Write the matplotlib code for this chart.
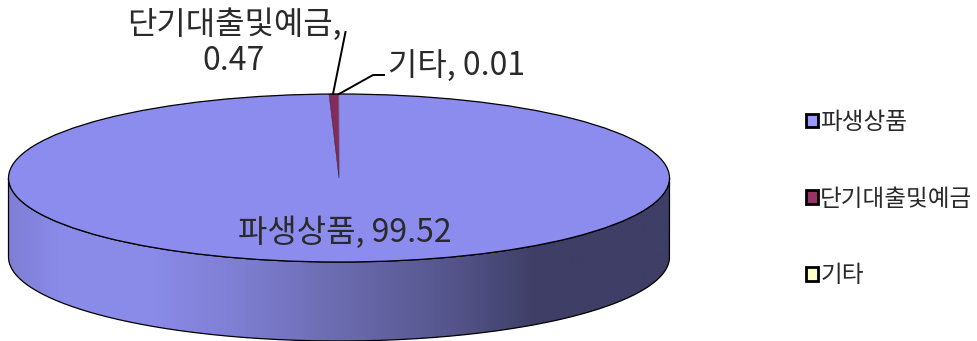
import numpy as np
import matplotlib
matplotlib.use("Agg")
import matplotlib.pyplot as plt
from matplotlib.colors import LinearSegmentedColormap
from matplotlib.patches import Patch, PathPatch, Ellipse
from matplotlib.path import Path

plt.rcParams['font.family'] = ['Noto Sans CJK KR', 'DejaVu Sans']

categories = ['파생상품', '단기대출및예금', '기타']
values = [99.52, 0.47, 0.01]
top_colors = ['#8C8CEE', '#822B5C', '#DADAB0']
legend_colors = ['#9999FF', '#993366', '#FFFFCC']

W, H = 978, 341
fig = plt.figure(figsize=(W / 100, H / 100), dpi=100)
cx, cy, rx, ry, depth = 339, 178, 330.5, 84, 79
text_color = '#2A2A2A'

# overlay in pixel coordinates
ov = fig.add_axes([0, 0, 1, 1], zorder=1)
ov.set_xlim(0, W); ov.set_ylim(H, 0); ov.axis('off')

# side wall with horizontal shading
t = np.linspace(0, np.pi, 300)
xf, yf = cx - rx * np.cos(t), cy + ry * np.sin(t)
verts = np.r_[np.c_[xf, yf], np.c_[xf[::-1], yf[::-1] + depth], [[xf[0], yf[0]]]]
wall = PathPatch(Path(verts), fc='none', ec='black', lw=0.9, zorder=2)
ov.add_patch(wall)
stops = [(0.0, '#7F7FD6'), (0.08, '#8A8AEA'), (0.22, '#8A8AE8'), (0.34, '#7F7FD4'),
         (0.50, '#6B6BB0'), (0.67, '#55558C'), (0.80, '#3E3E66'), (1.0, '#3E3E66')]
cmap = LinearSegmentedColormap.from_list('wall', stops)
im = ov.imshow(np.linspace(0, 1, 512)[None, :], cmap=cmap, aspect='auto',
               extent=(cx - rx, cx + rx, H, 0), zorder=1)
im.set_clip_path(wall)
ov.set_xlim(0, W); ov.set_ylim(H, 0)

# top face: real pie in an axes stretched to the ellipse
pie_ax = fig.add_axes([(cx - rx) / W, 1 - (cy + ry) / H, 2 * rx / W, 2 * ry / H], zorder=2)
wedges, _ = pie_ax.pie(values, colors=top_colors, startangle=90, counterclock=False,
                       radius=1, wedgeprops=dict(lw=0))
pie_ax.set_aspect('auto')
pie_ax.set_xlim(-1, 1); pie_ax.set_ylim(-1, 1)
wedges[1].set_edgecolor('#33182A'); wedges[1].set_linewidth(0.4)
pie_ax.add_patch(Ellipse((0, 0), 2, 2, fc='none', ec='black', lw=0.9, clip_on=False))

# labels and leader lines above everything
lab = fig.add_axes([0, 0, 1, 1], zorder=3)
lab.set_xlim(0, W); lab.set_ylim(H, 0); lab.axis('off')
fs = 23
lab.text(234, 25, f'{categories[1]},', fontsize=fs, color=text_color, ha='center', va='center', fontweight='light')
lab.text(234, 61, f'{values[1]}', fontsize=fs, color=text_color, ha='center', va='center', fontweight='light')
lab.text(388, 66, f'{categories[2]}, {values[2]}', fontsize=fs, color=text_color, ha='left', va='center', fontweight='light')
lab.text(345, 233, f'{categories[0]}, {values[0]}', fontsize=fs, color=text_color, ha='center', va='center', fontweight='light')
lab.plot([333, 345.5], [94, 32], color='black', lw=1.4)
lab.plot([339, 373, 384], [94, 75, 75], color='black', lw=1.4)

handles = [Patch(fc=c, ec='black', lw=2) for c in legend_colors]
fig.legend(handles, categories, loc='center left', bbox_to_anchor=(806 / W, 1 - 199 / H),
           frameon=False, fontsize=17, labelcolor=text_color, handlelength=0.5, handleheight=0.5,
           handletextpad=0.1, labelspacing=2.28, borderpad=0, borderaxespad=0)

fig.savefig('out.png', dpi=100)
